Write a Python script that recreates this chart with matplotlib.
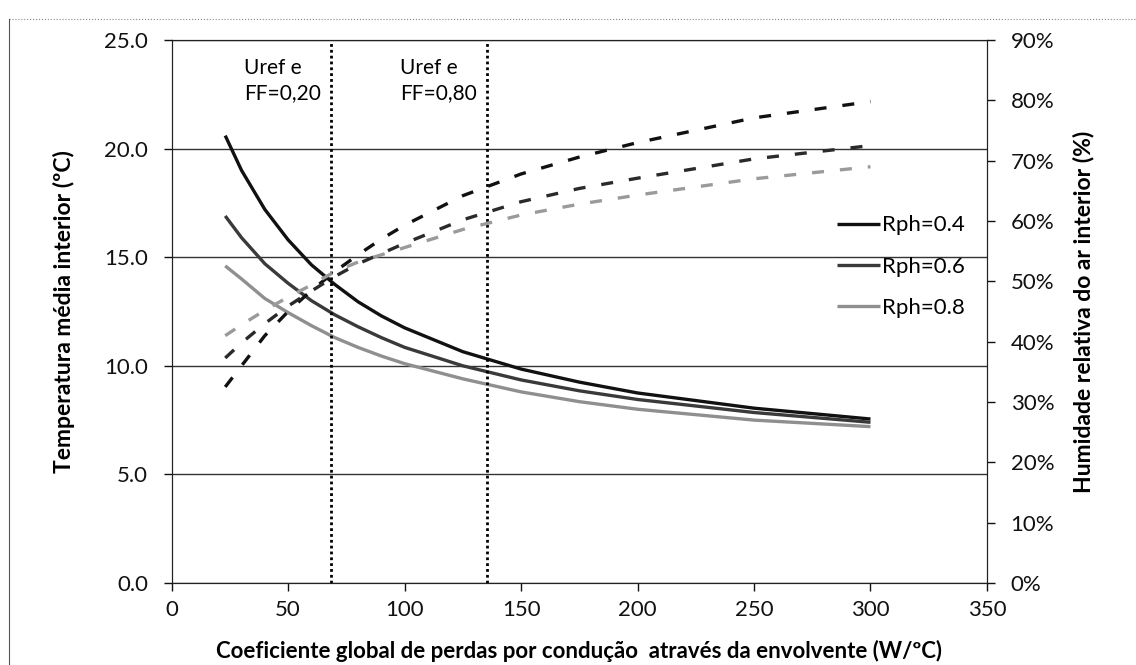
import matplotlib
matplotlib.use('Agg')
import matplotlib.pyplot as plt
from matplotlib.ticker import FuncFormatter
from matplotlib.lines import Line2D

plt.rcParams['font.family'] = ['Lato', 'DejaVu Sans']

# Data
u_vals = [23, 30, 40, 50, 60, 70, 80, 90, 100, 125, 150, 175, 200, 250, 300]

# interior temperature (ºC), left axis
temp_04 = [20.6, 19.0, 17.2, 15.8, 14.65, 13.75, 12.95, 12.3, 11.75, 10.65, 9.85, 9.25, 8.75, 8.05, 7.55]
temp_06 = [16.9, 15.9, 14.7, 13.8, 13.0, 12.35, 11.8, 11.3, 10.85, 10.0, 9.35, 8.85, 8.45, 7.85, 7.4]
temp_08 = [14.6, 14.0, 13.1, 12.45, 11.85, 11.3, 10.85, 10.45, 10.1, 9.4, 8.8, 8.35, 8.0, 7.5, 7.2]

# interior relative humidity (%), right axis
hum_04 = [32.5, 36.0, 41.0, 45.0, 48.5, 51.6, 54.4, 57.0, 59.3, 64.2, 67.8, 70.6, 73.0, 77.1, 79.8]
hum_06 = [37.3, 39.8, 43.0, 45.9, 48.4, 50.8, 52.9, 54.6, 56.3, 60.2, 63.2, 65.4, 67.1, 70.3, 72.5]
hum_08 = [41.0, 42.8, 45.2, 47.4, 49.4, 51.6, 53.2, 54.4, 55.6, 58.6, 61.0, 62.8, 64.3, 67.0, 69.0]

series_names = ['Rph=0.4', 'Rph=0.6', 'Rph=0.8']
ref_lines = [68.5, 135.5]
ref_texts = ['Uref e\nFF=0,20', 'Uref e\nFF=0,80']

solid_cols = ['#111111', '#3a3a3a', '#8f8f8f']
dash_cols = ['#111111', '#2a2a2a', '#9a9a9a']

fig = plt.figure(figsize=(11.36, 6.65), dpi=100)
ax = fig.add_axes([0.1511, 0.1233, 0.7177, 0.8165])
ax2 = ax.twinx()

# temperature curves
handles = []
for t, c, name in zip([temp_04, temp_06, temp_08], solid_cols, series_names):
    h, = ax.plot(u_vals, t, color=c, lw=2.4, solid_capstyle='butt', label=name)
    handles.append(h)

# humidity curves
for hm, c in zip([hum_04, hum_06, hum_08], dash_cols):
    ax2.plot(u_vals, hm, color=c, lw=2.4, dashes=(3.6, 4.8), dash_capstyle='butt')

# reference lines
for xr, txt in zip(ref_lines, ref_texts):
    ax.axvline(xr, color='black', lw=2.0, ls=(0, (1, 1.1)))
    ax.text(xr - 37.5, 24.15, txt, fontsize=15, va='top', ha='left', linespacing=1.3)

ax.set_xlim(0, 350)
ax.set_ylim(0, 25)
ax2.set_ylim(0, 90)
ax.set_xticks(range(0, 351, 50))
ax.set_yticks([0, 5, 10, 15, 20, 25])
ax2.set_yticks(range(0, 91, 10))
ax.yaxis.set_major_formatter(FuncFormatter(lambda v, p: f'{v:.1f}'))
ax2.yaxis.set_major_formatter(FuncFormatter(lambda v, p: f'{v:.0f}%'))

ax.grid(axis='y', color='#333333', lw=1.0)
ax.set_axisbelow(True)
for s in ['left', 'bottom', 'right', 'top']:
    ax.spines[s].set_color('#222222')
    ax2.spines[s].set_color('#222222')
ax.spines['top'].set_color('#333333')

ax.tick_params(axis='both', direction='out', length=6, width=1, labelsize=16, colors='#111111')
ax.tick_params(axis='y', pad=11)
ax.tick_params(axis='x', pad=6)
ax2.tick_params(axis='y', direction='out', length=6, width=1, labelsize=16, pad=11, colors='#111111')

ax.set_xlabel('Coeficiente global de perdas por condução  através da envolvente (W/ºC)',
              fontsize=16, fontweight='bold')
ax.xaxis.set_label_coords(0.5, -0.105)
ax.set_ylabel('Temperatura média interior (ºC)', fontsize=16.5, fontweight='bold')
ax.yaxis.set_label_coords(-0.118, 0.5)
ax2.set_ylabel('Humidade relativa do ar interior (%)', fontsize=16.5, fontweight='bold',
               rotation=90)
ax2.yaxis.set_label_coords(1.105, 0.5)

leg = ax2.legend(handles=handles, loc='upper left', bbox_to_anchor=(0.816, 0.677),
                 frameon=False, fontsize=16, handlelength=1.95, handletextpad=0.1,
                 labelspacing=0.95, borderpad=0, borderaxespad=0)

# scanned page frame
fig.add_artist(Line2D([0.008, 1.0], [0.972, 0.972], color='#888888', lw=0.8, ls=':'))
fig.add_artist(Line2D([0.008, 0.008], [0.0, 0.972], color='#555555', lw=0.8))

fig.savefig('out.png', dpi=100)
